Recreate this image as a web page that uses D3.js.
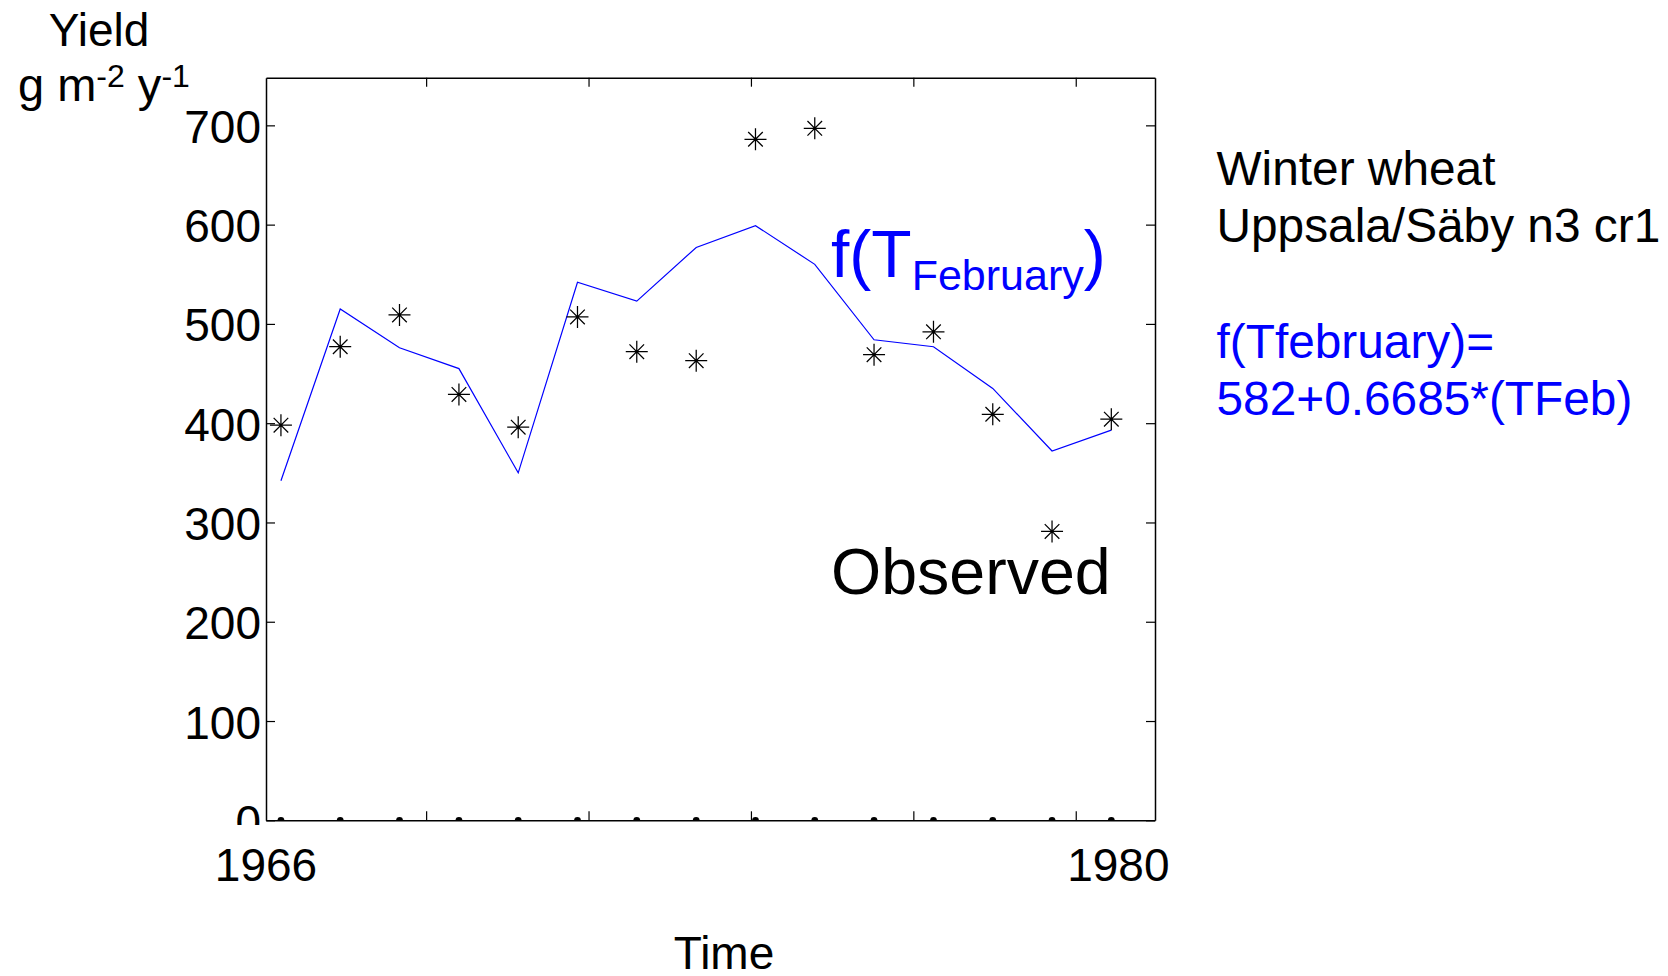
<!DOCTYPE html>
<html>
<head>
<meta charset="utf-8">
<script src="https://cdn.jsdelivr.net/npm/d3@7"></script>
<style>
  html, body { margin: 0; padding: 0; background: #fff; }
  svg { display: block; }
  text { font-family: "Liberation Sans", Arial, "DejaVu Sans", sans-serif; }
</style>
</head>
<body>
<svg id="chart" width="1668" height="976"></svg>
<script>
// Harvest years (each value is placed on 1 January of its year)
const years = [1966, 1967, 1968, 1969, 1970, 1971, 1972, 1973, 1974, 1975, 1976, 1977, 1978, 1979, 1980];
// Observed winter wheat yield, g m-2 y-1
const observed = [398, 477, 509, 429, 396, 507, 472, 463, 686, 697, 469, 492, 409, 291, 404];
// Yield predicted from February temperature, f(TFeb)
const modelled = [342, 515, 476, 455, 350, 542, 523, 577, 599, 560, 484, 477, 435, 372, 393];
// Axis ticks: time axis in days since 1900-01-01, yield axis in g m-2 y-1
const xTickValues = [25000, 26000, 27000, 28000, 29000];
const yTickValues = [0, 100, 200, 300, 400, 500, 600, 700];
const yearLabels = ["1966", "1980"];

const svg = d3.select("#chart");
const W = 1668, H = 976;
svg.append("rect").attr("width", W).attr("height", H).attr("fill", "#fff");

const plot = { left: 266, right: 1155, top: 77.7, bottom: 820.3 };
const FONT = 46;

const dayNumber = yr => (Date.UTC(yr, 0, 1) - Date.UTC(1900, 0, 1)) / 86400000;

const x = d3.scaleLinear()
  .domain([dayNumber(years[0]) - 92, dayNumber(years[years.length - 1]) + 269])
  .range([plot.left, plot.right]);
const y = d3.scaleLinear().domain([0, 748]).range([plot.bottom, plot.top]);

const defs = svg.append("defs");
defs.append("clipPath").attr("id", "plot-clip")
  .append("rect")
  .attr("x", plot.left).attr("y", plot.top)
  .attr("width", plot.right - plot.left).attr("height", plot.bottom - plot.top);
defs.append("clipPath").attr("id", "ylabel-clip")
  .append("rect").attr("x", 0).attr("y", 0).attr("width", W).attr("height", 825);

// Modelled series (blue line)
const line = d3.line().x((d, i) => x(dayNumber(years[i]))).y(d => y(d));
svg.append("path")
  .datum(modelled)
  .attr("d", line)
  .attr("fill", "none")
  .attr("stroke", "#0000ff")
  .attr("stroke-width", 1.2)
  .attr("stroke-linejoin", "miter");

// Observed values as asterisk markers
const star = "M-11,0H11M0,-11V11M-7.3,-7.3L7.3,7.3M-7.3,7.3L7.3,-7.3";
svg.append("g").selectAll("path")
  .data(observed)
  .join("path")
  .attr("transform", (d, i) => `translate(${x(dayNumber(years[i]))},${y(d)})`)
  .attr("d", star)
  .attr("fill", "none")
  .attr("stroke", "#000")
  .attr("stroke-width", 1.25);

// Year markers sitting on the zero line
svg.append("g").attr("clip-path", "url(#plot-clip)")
  .selectAll("circle")
  .data(years)
  .join("circle")
  .attr("cx", d => x(dayNumber(d)))
  .attr("cy", y(0))
  .attr("r", 3.4)
  .attr("fill", "#000");

// Axes box with inward ticks
function styleAxis(g) {
  g.selectAll(".domain").attr("stroke", "#000").attr("stroke-width", 1.5);
  g.selectAll(".tick line").attr("stroke", "#000").attr("stroke-width", 1.2);
}

svg.append("g")
  .attr("transform", `translate(0,${plot.bottom})`)
  .call(d3.axisBottom(x).tickValues(xTickValues).tickSizeInner(-9).tickSizeOuter(0).tickFormat(""))
  .call(styleAxis);
svg.append("g")
  .attr("transform", `translate(0,${plot.top})`)
  .call(d3.axisTop(x).tickValues(xTickValues).tickSizeInner(-9).tickSizeOuter(0).tickFormat(""))
  .call(styleAxis);
svg.append("g")
  .attr("transform", `translate(${plot.right},0)`)
  .call(d3.axisRight(y).tickValues(yTickValues).tickSizeInner(-9).tickSizeOuter(0).tickFormat(""))
  .call(styleAxis);

const leftWrap = svg.append("g").attr("clip-path", "url(#ylabel-clip)");
const leftAxis = leftWrap.append("g")
  .attr("transform", `translate(${plot.left},0)`)
  .call(d3.axisLeft(y).tickValues(yTickValues).tickSizeInner(-9).tickSizeOuter(0).tickPadding(5))
  .call(styleAxis);
leftAxis.attr("font-family", null).attr("font-size", null);
leftAxis.selectAll(".tick text")
  .attr("fill", "#000")
  .attr("font-size", FONT)
  .attr("dy", "0.37em");

// Year labels under the time axis
const yearLabelX = [plot.left, x(dayNumber(1980)) + 7];
svg.append("g").selectAll("text")
  .data(yearLabels)
  .join("text")
  .attr("x", (d, i) => yearLabelX[i])
  .attr("y", 880.7)
  .attr("text-anchor", "middle")
  .attr("font-size", FONT)
  .attr("fill", "#000")
  .text(d => d);

// Axis titles
svg.append("text")
  .attr("x", 724).attr("y", 969)
  .attr("text-anchor", "middle")
  .attr("font-size", FONT)
  .text("Time");

svg.append("text")
  .attr("x", 99).attr("y", 45.7)
  .attr("text-anchor", "middle")
  .attr("font-size", FONT)
  .text("Yield");

const unit = svg.append("text")
  .attr("x", 18).attr("y", 100.5)
  .attr("font-size", 47);
unit.append("tspan").text("g m");
unit.append("tspan").attr("font-size", 32).attr("dy", -14).text("-2");
unit.append("tspan").attr("dy", 14).text(" y");
unit.append("tspan").attr("font-size", 32).attr("dy", -14).text("-1");

// In-plot series labels
const fLabel = svg.append("text")
  .attr("x", 831).attr("y", 276.7)
  .attr("font-size", 66)
  .attr("fill", "#0000ff");
fLabel.append("tspan").text("f(T");
fLabel.append("tspan").attr("font-size", 43).attr("dy", 13.3).text("February");
fLabel.append("tspan").attr("dy", -13.3).text(")");

svg.append("text")
  .attr("x", 831).attr("y", 594.3)
  .attr("font-size", 64.5)
  .attr("fill", "#000")
  .text("Observed");

// Side annotations
const notes = [
  { text: "Winter wheat", y: 185, color: "#000" },
  { text: "Uppsala/Säby n3 cr1", y: 241.7, color: "#000" },
  { text: "f(Tfebruary)=", y: 357.7, color: "#0000ff" },
  { text: "582+0.6685*(TFeb)", y: 415, color: "#0000ff" }
];
svg.append("g").selectAll("text")
  .data(notes)
  .join("text")
  .attr("x", 1216.5)
  .attr("y", d => d.y)
  .attr("font-size", 47.8)
  .attr("fill", d => d.color)
  .text(d => d.text);
</script>
</body>
</html>
